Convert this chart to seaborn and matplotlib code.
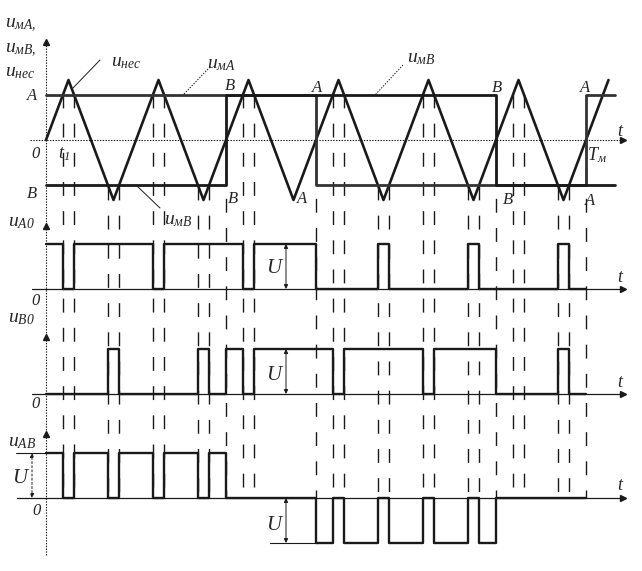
import numpy as np
import matplotlib
matplotlib.use("Agg")
import matplotlib.pyplot as plt
import seaborn as sns

# time in carrier periods (Tm = 6 carrier periods)
carrier_t = [0, 0.25, 0.75, 1.25, 1.75, 2.25, 2.75, 3.25, 3.75, 4.25, 4.75, 5.25, 5.75, 6.25]
carrier_v = [0, 1, -1, 1, -1, 1, -1, 1, -1, 1, -1, 1, -1, 1]

# modulating signals (step: value holds from t[i] to t[i+1])
mA_t = [0, 3, 6, 6.32]
mA_v = [0.75, -0.75, 0.75, 0.75]
mB_t = [0, 2, 5, 6.32]
mB_v = [-0.75, 0.75, -0.75, -0.75]

# output voltages, in units of U
uA0_t = [0, 0.19, 0.31, 1.19, 1.31, 2.19, 2.31, 3.0, 3.69, 3.81, 4.69, 4.81, 5.69, 5.81, 6.0]
uA0_v = [1, 0, 1, 0, 1, 0, 1, 0, 1, 0, 1, 0, 1, 0, 0]
uB0_t = [0, 0.69, 0.81, 1.69, 1.81, 2.0, 2.19, 2.31, 3.19, 3.31, 4.19, 4.31, 5.0, 5.69, 5.81, 6.0]
uB0_v = [0, 1, 0, 1, 0, 1, 0, 1, 0, 1, 0, 1, 0, 1, 0, 0]
uAB_t = [0, 0.19, 0.31, 0.69, 0.81, 1.19, 1.31, 1.69, 1.81, 2.0, 3.0, 3.19, 3.31,
         3.69, 3.81, 4.19, 4.31, 4.69, 4.81, 5.0, 6.0]
uAB_v = [1, 0, 1, 0, 1, 0, 1, 0, 1, 0, -1, 0, -1, 0, -1, 0, -1, 0, -1, 0, 0]

# switching instants (dashed guides)
guide_t = [0.19, 0.31, 0.69, 0.81, 1.19, 1.31, 1.69, 1.81, 2.0, 2.19, 2.31, 3.0,
           3.19, 3.31, 3.69, 3.81, 4.19, 4.31, 4.69, 4.81, 5.0, 5.19, 5.31,
           5.69, 5.81, 6.0]

# layout (pixels): t=0 at x=46, one carrier period = 90 px
X0, TS = 46, 90
TOP, A0, B0, AB = 140, 289, 394, 498     # zero lines
SC_TOP, SC = 60, 45                      # px per unit


def X(px):
    return (px - X0) / TS


def steps(t, v):
    t = np.asarray(t, float)
    v = np.asarray(v, float)
    return np.repeat(t, 2)[1:], np.repeat(v, 2)[:-1]


sns.set_theme(style="white")
plt.rcParams['font.family'] = ['Liberation Serif', 'DejaVu Serif']
plt.rcParams['font.style'] = 'italic'
plt.rcParams['mathtext.fontset'] = 'custom'
plt.rcParams['mathtext.rm'] = 'Liberation Serif'
plt.rcParams['mathtext.it'] = 'Liberation Serif:italic'
plt.rcParams['lines.scale_dashes'] = False

fig = plt.figure(figsize=(6.42, 5.71), dpi=100)
ax = fig.add_axes([0, 0, 1, 1])
ax.set_xlim(X(0), X(642))
ax.set_ylim(571, 0)
ax.axis('off')

# axes lines
ax.plot([0, 0], [555, 42], color='k', lw=0.8, ls=(0, (1, 1)))
for y in [38, 222, 333, 430]:
    ax.plot(0, y + 4, marker='^', ms=5, color='k')
ax.plot([X(30), X(624)], [TOP, TOP], color='k', lw=0.8, ls=(0, (1, 1)))
ax.plot([X(32), X(624)], [A0, A0], color='k', lw=0.9)
ax.plot([X(32), X(624)], [B0, B0], color='k', lw=0.9)
ax.plot([X(17), X(624)], [AB, AB], color='k', lw=0.9)
for y in [TOP, A0, B0, AB]:
    ax.plot(X(623), y, marker='>', ms=5, color='k')

# dashed guides from the crossing point down to the u_AB axis
g0 = TOP - SC_TOP * np.interp(guide_t, carrier_t, carrier_v)
ax.vlines(guide_t, g0, AB, colors='k', lw=1.0, linestyles=[(0, (10, 11))])

# top panel: carrier and modulating signals
sns.lineplot(x=carrier_t, y=TOP - SC_TOP * np.asarray(carrier_v), sort=False,
             estimator=None, color='k', lw=1.9, ax=ax)
for t, v, c in [(mA_t, mA_v, '#333333'), (mB_t, mB_v, 'k')]:
    xs, ys = steps(t, v)
    sns.lineplot(x=xs, y=TOP - SC_TOP * ys, sort=False, estimator=None,
                 color=c, lw=2.0, ax=ax)

# output waveforms
for t, v, base in [(uA0_t, uA0_v, A0), (uB0_t, uB0_v, B0), (uAB_t, uAB_v, AB)]:
    xs, ys = steps(t, v)
    sns.lineplot(x=xs, y=base - SC * ys, sort=False, estimator=None,
                 color='k', lw=1.7, ax=ax)

# level extensions and U arrows
ax.plot([X(16), 0], [AB - SC, AB - SC], color='k', lw=0.8)
ax.plot([X(270), 3.0], [AB + SC, AB + SC], color='k', lw=0.8)
arr = dict(arrowstyle='<|-|>', color='k', lw=0.7, mutation_scale=6,
           shrinkA=0, shrinkB=0)
for x, y1, y2 in [(286, A0 - SC, A0), (286, B0 - SC, B0), (286, AB, AB + SC)]:
    ax.annotate('', xy=(X(x), y1), xytext=(X(x), y2), arrowprops=arr)
ax.annotate('', xy=(X(32), AB - SC), xytext=(X(32), AB),
            arrowprops=dict(arr, ls=(0, (1.5, 1.5))))

# leader lines
ax.plot([X(100), X(73)], [60, 88], color='k', lw=0.7)
ax.plot([X(210), X(183)], [67, 95], color='k', lw=0.7, ls=(0, (1, 1)))
ax.plot([X(403), X(375)], [65, 95], color='k', lw=0.7, ls=(0, (1, 1)))
ax.plot([X(137), X(160)], [186, 208], color='k', lw=0.7)

# labels (px positions, baseline)
labels = [
    (5, 27, r'$u_{\mathrm{м}A,}$', 14), (5, 52, r'$u_{\mathrm{м}B,}$', 14),
    (5, 76, r'$u_{\mathrm{нес}}$', 14), (111, 66, r'$u_{\mathrm{нес}}$', 14),
    (207, 68, r'$u_{\mathrm{м}A}$', 14), (407, 62, r'$u_{\mathrm{м}B}$', 14),
    (164, 224, r'$u_{\mathrm{м}B}$', 14),
    (27, 100, 'A', 12), (27, 198, 'B', 12), (31, 158, '0', 12),
    (58, 158, r'$t_1$', 13),
    (225, 90, 'B', 12), (228, 203, 'B', 12), (312, 92, 'A', 12), (297, 203, 'A', 12),
    (492, 92, 'B', 12), (503, 204, 'B', 12), (580, 92, 'A', 12), (585, 205, 'A', 12),
    (617, 136, 't', 13), (587, 160, r'$T_{\mathrm{м}}$', 13),
    (8, 226, r'$u_{A0}$', 14), (31, 305, '0', 12), (266, 273, 'U', 15),
    (8, 322, r'$u_{B0}$', 14), (31, 408, '0', 12), (266, 380, 'U', 15),
    (617, 282, 't', 13), (617, 387, 't', 13), (617, 490, 't', 13),
    (8, 446, r'$u_{AB}$', 14), (12, 483, 'U', 15), (32, 515, '0', 12),
    (266, 530, 'U', 15),
]
for px, py, s, fs in labels:
    ax.text(X(px), py, s, fontsize=fs, ha='left', va='baseline', style='italic')

fig.savefig('out.png', dpi=100)
